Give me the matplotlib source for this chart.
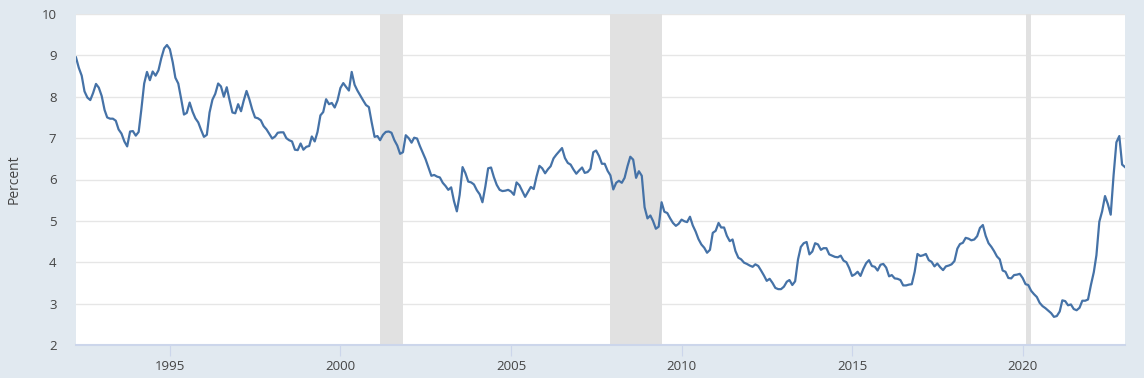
import numpy as np
import pandas as pd
import matplotlib
matplotlib.use('Agg')
import matplotlib.pyplot as plt

plt.rcParams['font.family'] = ['Open Sans', 'DejaVu Sans']

# Monthly 30-year fixed mortgage rate, Apr 1992 .. Jan 2023 (percent)
start_month = '1992-04'
rates = [
    # 1992 Apr-Dec
    8.95, 8.70, 8.51, 8.13, 7.98, 7.92, 8.09, 8.31, 8.22,
    # 1993
    8.02, 7.68, 7.50, 7.47, 7.47, 7.42, 7.21, 7.11, 6.92, 6.80, 7.16, 7.17,
    # 1994
    7.06, 7.15, 7.68, 8.32, 8.60, 8.40, 8.61, 8.51, 8.64, 8.93, 9.17, 9.25,
    # 1995
    9.15, 8.83, 8.46, 8.32, 7.96, 7.57, 7.61, 7.86, 7.64, 7.48, 7.38, 7.20,
    # 1996
    7.03, 7.08, 7.62, 7.93, 8.07, 8.32, 8.25, 8.00, 8.23, 7.92, 7.62, 7.60,
    # 1997
    7.82, 7.65, 7.90, 8.14, 7.94, 7.69, 7.50, 7.48, 7.43, 7.29, 7.21, 7.10,
    # 1998
    6.99, 7.04, 7.13, 7.14, 7.14, 7.00, 6.95, 6.92, 6.72, 6.71, 6.87, 6.72,
    # 1999
    6.79, 6.81, 7.04, 6.92, 7.15, 7.55, 7.63, 7.94, 7.82, 7.85, 7.74, 7.91,
    # 2000
    8.21, 8.33, 8.24, 8.15, 8.60, 8.29, 8.15, 8.03, 7.91, 7.80, 7.75, 7.38,
    # 2001
    7.03, 7.05, 6.95, 7.08, 7.15, 7.16, 7.13, 6.95, 6.82, 6.62, 6.66, 7.07,
    # 2002
    7.00, 6.89, 7.01, 6.99, 6.81, 6.65, 6.49, 6.29, 6.09, 6.11, 6.07, 6.05,
    # 2003
    5.92, 5.84, 5.75, 5.81, 5.48, 5.23, 5.63, 6.30, 6.15, 5.95, 5.93, 5.88,
    # 2004
    5.74, 5.64, 5.45, 5.83, 6.27, 6.29, 6.06, 5.87, 5.75, 5.72, 5.73, 5.75,
    # 2005
    5.71, 5.63, 5.93, 5.86, 5.72, 5.58, 5.70, 5.82, 5.77, 6.07, 6.33, 6.27,
    # 2006
    6.15, 6.25, 6.32, 6.51, 6.60, 6.68, 6.76, 6.52, 6.40, 6.36, 6.24, 6.14,
    # 2007
    6.22, 6.29, 6.16, 6.18, 6.26, 6.66, 6.70, 6.57, 6.38, 6.38, 6.21, 6.10,
    # 2008
    5.76, 5.92, 5.97, 5.92, 6.04, 6.32, 6.55, 6.48, 6.04, 6.20, 6.09, 5.33,
    # 2009
    5.06, 5.13, 5.00, 4.81, 4.86, 5.45, 5.22, 5.19, 5.06, 4.95, 4.88, 4.93,
    # 2010
    5.03, 4.99, 4.97, 5.10, 4.89, 4.74, 4.56, 4.43, 4.35, 4.23, 4.30, 4.71,
    # 2011
    4.76, 4.95, 4.84, 4.84, 4.64, 4.51, 4.55, 4.27, 4.11, 4.07, 3.99, 3.96,
    # 2012
    3.92, 3.89, 3.95, 3.91, 3.80, 3.68, 3.55, 3.60, 3.50, 3.38, 3.35, 3.35,
    # 2013
    3.41, 3.53, 3.57, 3.45, 3.54, 4.07, 4.37, 4.46, 4.49, 4.19, 4.26, 4.46,
    # 2014
    4.43, 4.30, 4.34, 4.34, 4.19, 4.16, 4.13, 4.12, 4.16, 4.04, 4.00, 3.86,
    # 2015
    3.67, 3.71, 3.77, 3.67, 3.84, 3.98, 4.05, 3.91, 3.89, 3.80, 3.94, 3.96,
    # 2016
    3.87, 3.66, 3.69, 3.61, 3.60, 3.57, 3.44, 3.44, 3.46, 3.47, 3.77, 4.20,
    # 2017
    4.15, 4.17, 4.20, 4.05, 4.01, 3.90, 3.97, 3.88, 3.81, 3.90, 3.92, 3.95,
    # 2018
    4.03, 4.33, 4.44, 4.47, 4.59, 4.57, 4.53, 4.55, 4.63, 4.83, 4.90, 4.64,
    # 2019
    4.46, 4.37, 4.27, 4.14, 4.07, 3.80, 3.77, 3.62, 3.61, 3.69, 3.70, 3.72,
    # 2020
    3.62, 3.47, 3.45, 3.31, 3.23, 3.16, 3.02, 2.94, 2.89, 2.83, 2.77, 2.68,
    # 2021
    2.70, 2.81, 3.08, 3.06, 2.96, 2.98, 2.87, 2.84, 2.90, 3.07, 3.07, 3.10,
    # 2022
    3.45, 3.76, 4.17, 4.98, 5.23, 5.60, 5.41, 5.15, 6.11, 6.90, 7.05, 6.36,
    # 2023 Jan
    6.30,
]

# NBER recessions (shaded)
rec_start = ['2001-03-01', '2007-12-01', '2020-02-01']
rec_end = ['2001-11-01', '2009-06-01', '2020-04-01']

x_tick_years = [1995, 2000, 2005, 2010, 2015, 2020]
y_ticks = [2, 3, 4, 5, 6, 7, 8, 9, 10]

dates = pd.date_range(start_month, periods=len(rates), freq='MS')

bg = '#e1e9f0'
fig = plt.figure(figsize=(11.44, 3.78), dpi=100, facecolor=bg)
ax = fig.add_axes([76 / 1144, 1 - 345 / 378, (1125 - 76) / 1144, (345 - 14) / 378])
ax.set_facecolor('white')

for s, e in zip(rec_start, rec_end):
    ax.axvspan(pd.Timestamp(s), pd.Timestamp(e), color='#e1e1e1', lw=0, zorder=1)

ax.plot(dates, rates, color='#4572a7', lw=1.6, zorder=3)

ax.set_xlim(dates[0], dates[-1])
ax.set_ylim(2, 10)
ax.set_yticks(y_ticks)
ax.set_yticklabels([str(v) for v in y_ticks])
ax.set_xticks([pd.Timestamp(f'{y}-01-01') for y in x_tick_years])
ax.set_xticklabels([str(y) for y in x_tick_years])

ax.grid(axis='y', color='#e6e6e6', lw=1, zorder=0)
ax.set_axisbelow(True)
for side in ['top', 'right', 'left']:
    ax.spines[side].set_visible(False)
ax.spines['bottom'].set_color('#ccd6eb')
ax.spines['bottom'].set_linewidth(1.5)

ax.tick_params(axis='y', length=0, pad=14, labelsize=9.5, labelcolor='#444444')
ax.tick_params(axis='x', length=8, width=0.8, color='#ccd6eb', pad=3,
               labelsize=9.5, labelcolor='#444444')

ax.set_ylabel('Percent', fontsize=10, color='#444444', labelpad=14)

fig.savefig('out.png', dpi=100, facecolor=bg)
